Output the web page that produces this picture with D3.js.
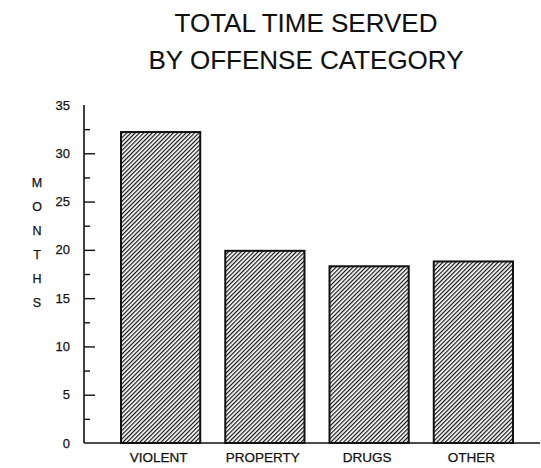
<!DOCTYPE html>
<html>
<head>
<meta charset="utf-8">
<script src="https://cdn.jsdelivr.net/npm/d3@7"></script>
<style>
  html, body { margin: 0; padding: 0; background: #fff; }
  svg { display: block; font-family: "Liberation Sans", Arial, sans-serif; }
  svg text { fill: #111; stroke: #111; stroke-width: 0.25; }
</style>
</head>
<body>
<svg width="541" height="468"></svg>
<script>
// chart data
const categories = ["VIOLENT", "PROPERTY", "DRUGS", "OTHER"];
const months = [32.2, 19.9, 18.3, 18.8];
const yTicks = [0, 5, 10, 15, 20, 25, 30, 35];
const titleLines = ["TOTAL TIME SERVED", "BY OFFENSE CATEGORY"];
const yLabel = "MONTHS";

const svg = d3.select("svg");
const margin = { top: 105, left: 84, bottom: 25 };
const height = 468 - margin.bottom;

const x = d3.scaleBand()
  .domain(categories)
  .range([margin.left, 550])
  .paddingInner(0.24)
  .paddingOuter(0.355);

const y = d3.scaleLinear()
  .domain([0, 35])
  .range([height, margin.top]);

// hatch pattern, dense diagonal lines
const hs = 3;
const pat = svg.append("defs").append("pattern")
  .attr("id", "hatch")
  .attr("patternUnits", "userSpaceOnUse")
  .attr("width", hs)
  .attr("height", hs)
  .attr("patternTransform", "rotate(45)");
pat.append("rect").attr("width", hs).attr("height", hs).attr("fill", "#fff");
pat.append("line")
  .attr("x1", 0).attr("y1", 0).attr("x2", 0).attr("y2", hs)
  .attr("stroke", "#111").attr("stroke-width", 2.4);

// title
svg.append("g").selectAll("text")
  .data(titleLines)
  .join("text")
  .attr("x", 306)
  .attr("y", (d, i) => 32 + i * 37)
  .attr("text-anchor", "middle")
  .attr("font-size", 26)
  .style("stroke-width", 0.1)
  .text(d => d);

// bars
svg.append("g").selectAll("rect")
  .data(months)
  .join("rect")
  .attr("x", (d, i) => x(categories[i]))
  .attr("y", d => y(d))
  .attr("width", x.bandwidth())
  .attr("height", d => y(0) - y(d))
  .attr("fill", "url(#hatch)")
  .attr("stroke", "#111")
  .attr("stroke-width", 2);

// y axis, ticks pointing into the plot
const ya = svg.append("g")
  .attr("transform", `translate(${margin.left},0)`)
  .call(d3.axisRight(y)
    .tickValues(d3.range(2.5, 35, 2.5))
    .tickSize(7)
    .tickFormat(""));
ya.select(".domain").remove();
ya.selectAll(".tick line")
  .attr("stroke", "#111")
  .attr("stroke-width", 1.4)
  .attr("x2", d => (d % 5 === 0 ? 11 : 6));

svg.append("line")
  .attr("x1", margin.left).attr("x2", margin.left)
  .attr("y1", y(35)).attr("y2", y(0))
  .attr("stroke", "#111").attr("stroke-width", 1.6);

// tick labels
svg.append("g").selectAll("text")
  .data(yTicks)
  .join("text")
  .attr("x", 70)
  .attr("y", d => y(d) + 4.5)
  .attr("text-anchor", "end")
  .attr("font-size", 13)
  .text(d => d);

// baseline
svg.append("line")
  .attr("x1", margin.left).attr("x2", 540)
  .attr("y1", y(0)).attr("y2", y(0))
  .attr("stroke", "#111").attr("stroke-width", 1.6);

// category labels
svg.append("g").selectAll("text")
  .data(categories)
  .join("text")
  .attr("x", d => x(d) + x.bandwidth() / 2 - 2)
  .attr("y", height + 19)
  .attr("text-anchor", "middle")
  .attr("font-size", 13.5)
  .text(d => d);

// vertical "MONTHS" label
svg.append("g").selectAll("text")
  .data(yLabel.split(""))
  .join("text")
  .attr("x", 37)
  .attr("y", (d, i) => 187 + i * 24)
  .attr("text-anchor", "middle")
  .attr("font-size", 12.5)
  .text(d => d);
</script>
</body>
</html>
